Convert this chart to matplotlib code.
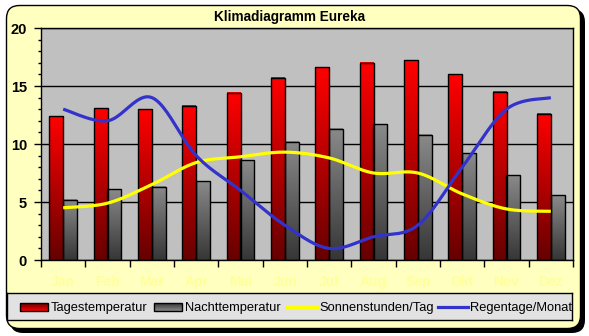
import numpy as np
import matplotlib
matplotlib.use("Agg")
import matplotlib.pyplot as plt
from matplotlib.colors import LinearSegmentedColormap
from matplotlib.patches import FancyBboxPatch, Rectangle
from matplotlib.lines import Line2D

# --- data ---------------------------------------------------------------
months = ["Jan", "Feb", "Mar", "Apr", "Mai", "Jun",
          "Jul", "Aug", "Sep", "Okt", "Nov", "Dez"]
tagestemperatur = [12.4, 13.1, 13.0, 13.3, 14.4, 15.7, 16.6, 17.0, 17.2, 16.0, 14.5, 12.6]
nachttemperatur = [5.2, 6.1, 6.3, 6.8, 8.6, 10.2, 11.3, 11.7, 10.8, 9.2, 7.3, 5.6]
sonnenstunden = [4.5, 4.9, 6.5, 8.4, 8.9, 9.3, 8.8, 7.5, 7.5, 5.7, 4.4, 4.2]
regentage = [13, 12, 14, 9, 6, 3, 1, 2, 3, 8, 13, 14]
series_names = ["Tagestemperatur", "Nachttemperatur",
                "Sonnenstunden/Tag", "Regentage/Monat"]
title = "Klimadiagramm Eureka"

W, H = 589, 336
FONT = "Liberation Sans"
FRAME_BG = "#FFFFC0"
PLOT_BG = "#C0C0C0"
RED_CMAP = LinearSegmentedColormap.from_list("red", ["#660000", "#FF0000"])
GRAY_CMAP = LinearSegmentedColormap.from_list("gray", ["#363636", "#8A8A8A"])
YELLOW = "#FFFF00"
BLUE = "#3333CC"


def px_axes(fig, x0, y0, x1, y1):
    """Axes placed by pixel box (top-left origin)."""
    return fig.add_axes([x0 / W, 1 - y1 / H, (x1 - x0) / W, (y1 - y0) / H])


def smooth(xs, ys, n=24):
    """Catmull-Rom style bezier smoothing through the given points."""
    p = np.column_stack([xs, ys]).astype(float)
    p = np.vstack([p[0], p, p[-1]])
    out = []
    t = np.linspace(0, 1, n)[:, None]
    for i in range(1, len(p) - 2):
        p0, p3 = p[i], p[i + 1]
        c1 = p0 + (p[i + 1] - p[i - 1]) / 6
        c2 = p3 - (p[i + 2] - p[i]) / 6
        seg = ((1 - t) ** 3) * p0 + 3 * ((1 - t) ** 2) * t * c1 \
            + 3 * (1 - t) * t ** 2 * c2 + t ** 3 * p3
        out.append(seg if i == 1 else seg[1:])
    seg = np.vstack(out)
    return seg[:, 0], seg[:, 1]


def gradient_fill(ax, patch, cmap, z):
    x0, y0 = patch.get_x(), patch.get_y()
    w, h = patch.get_width(), patch.get_height()
    grad = np.linspace(0, 1, 256).reshape(-1, 1)
    ax.imshow(grad, cmap=cmap, extent=(x0, x0 + w, y0, y0 + h),
              origin="lower", aspect="auto", zorder=z, interpolation="bilinear")
    patch.set_facecolor("none")


fig = plt.figure(figsize=(W / 100, H / 100), dpi=100)
fig.patch.set_facecolor("white")

# --- rounded frame with shadow -------------------------------------------
bg = fig.add_axes([0, 0, 1, 1])
bg.set_xlim(0, W)
bg.set_ylim(H, 0)
bg.axis("off")
bg.add_patch(FancyBboxPatch((10, 9), 575, 324,
                            boxstyle="round,pad=0,rounding_size=13",
                            facecolor="black", edgecolor="black", lw=0))
bg.add_patch(FancyBboxPatch((6.5, 5.5), 574, 323,
                            boxstyle="round,pad=0,rounding_size=13",
                            facecolor=FRAME_BG, edgecolor="black", lw=1))
bg.text(290, 17.5, title, ha="center", va="center", fontsize=9.8,
        fontweight="bold", family=FONT)

# --- main plot ----------------------------------------------------------
ax = px_axes(fig, 41, 28, 573, 260)
ax.set_facecolor(PLOT_BG)
x = np.arange(len(months))
off, bw = 0.154, 0.31

red_bars = ax.bar(x - off, tagestemperatur, width=bw, edgecolor="black",
                  linewidth=1, zorder=4)
gray_bars = ax.bar(x + off, nachttemperatur, width=bw, edgecolor="black",
                   linewidth=1, zorder=4)
for p in red_bars:
    gradient_fill(ax, p, RED_CMAP, 3)
for p in gray_bars:
    gradient_fill(ax, p, GRAY_CMAP, 3)

sx, sy = smooth(x, sonnenstunden)
ax.plot(sx, sy, color=YELLOW, lw=2.3, zorder=5, solid_capstyle="butt")
rx, ry = smooth(x, regentage)
ax.plot(rx, ry, color=BLUE, lw=2.3, zorder=6, solid_capstyle="butt")

ax.set_xlim(-0.5, len(months) - 0.5)
ax.set_ylim(0, 20)
ax.set_yticks([0, 5, 10, 15, 20])
ax.set_yticks(np.arange(0, 21, 1), minor=True)
ax.yaxis.grid(True, which="major", color="black", lw=1, zorder=2)
ax.set_axisbelow(True)
for s in ax.spines.values():
    s.set_color("black")
    s.set_linewidth(1)
    s.set_zorder(7)
ax.tick_params(axis="y", which="major", length=5, width=1, pad=5,
               labelsize=10.5, direction="out")
ax.tick_params(axis="y", which="minor", length=2.5, width=1, direction="out")
for lab in ax.get_yticklabels():
    lab.set_fontweight("bold")
    lab.set_family(FONT)

ax.set_xticks(np.arange(-0.5, len(months), 1))
ax.set_xticklabels([])
ax.set_xticks(x, minor=True)
ax.set_xticklabels(months, minor=True)
ax.tick_params(axis="x", which="major", length=5, width=1, direction="out")
ax.tick_params(axis="x", which="minor", length=0, pad=11, labelsize=10,
               labelcolor="#FFFF9A")
for lab in ax.get_xticklabels(minor=True):
    lab.set_fontweight("bold")
    lab.set_family(FONT)

# --- legend box ---------------------------------------------------------
lg = px_axes(fig, 7, 293, 572, 320)
lg.set_xlim(7, 572)
lg.set_ylim(320, 293)
lg.set_facecolor("#E2E2E2")
lg.set_xticks([])
lg.set_yticks([])
for s in lg.spines.values():
    s.set_color("black")
    s.set_linewidth(1)

ly = 307
for (x0, cmap) in [(20, RED_CMAP), (154, GRAY_CMAP)]:
    grad = np.linspace(0, 1, 64).reshape(-1, 1)
    lg.imshow(grad, cmap=cmap, extent=(x0, x0 + 28, ly + 4, ly - 4),
              origin="upper", aspect="auto", zorder=2)
    lg.add_patch(Rectangle((x0, ly - 4), 28, 8, facecolor="none",
                           edgecolor="black", lw=1, zorder=3))
lg.add_line(Line2D([287, 317], [ly, ly], color=YELLOW, lw=2.3))
lg.add_line(Line2D([438, 468], [ly, ly], color=BLUE, lw=2.3))
lg.set_xlim(7, 572)
lg.set_ylim(320, 293)
for tx, name in zip([51, 185, 319, 470], series_names):
    lg.text(tx, ly + 0.5, name, ha="left", va="center", fontsize=9.3,
            family=FONT, clip_on=True)

fig.savefig("out.png", dpi=100, facecolor="white")
